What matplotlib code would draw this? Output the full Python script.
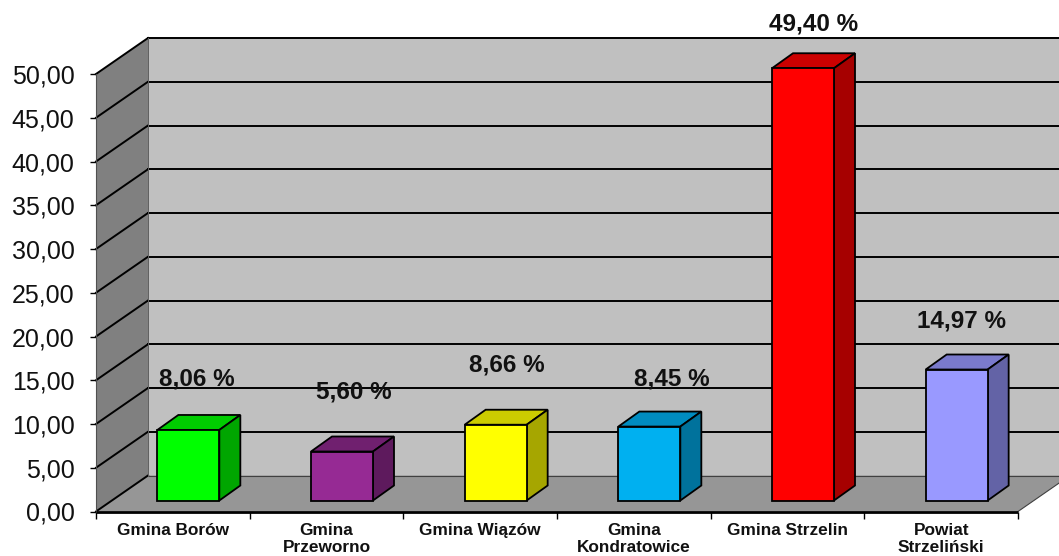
import matplotlib
matplotlib.use("Agg")
import matplotlib.pyplot as plt
from matplotlib.ticker import FixedLocator

plt.rcParams['font.family'] = ['Liberation Sans', 'DejaVu Sans']

categories = ["Gmina Borów", "Gmina\nPrzeworno", "Gmina Wiązów", "Gmina\nKondratowice", "Gmina Strzelin", "Powiat\nStrzeliński"]
values = [8.06, 5.60, 8.66, 8.45, 49.40, 14.97]
value_labels = ["8,06 %", "5,60 %", "8,66 %", "8,45 %", "49,40 %", "14,97 %"]
y_ticks = [0, 5, 10, 15, 20, 25, 30, 35, 40, 45, 50]
y_tick_labels = ["0,00", "5,00", "10,00", "15,00", "20,00", "25,00", "30,00", "35,00", "40,00", "45,00", "50,00"]
front_colors = ["#00ff00", "#962a94", "#ffff00", "#00b0f0", "#ff0000", "#9999ff"]
top_colors = ["#00cc00", "#70206f", "#cccc00", "#008cc0", "#cc0000", "#7a7acc"]
side_colors = ["#00a600", "#5e1a5d", "#a6a600", "#00729c", "#a60000", "#6363a6"]
label_offsets_px = [(8, -51), (12, -60), (11, -60), (22, -48), (11, -44), (5, -49)]

W, H = 1059, 556
fig = plt.figure(figsize=(W / 100, H / 100), dpi=100, facecolor="white")
ax = fig.add_axes([96 / W, (H - 511.5) / H, 922 / W, 437.5 / H])
ax.set_xlim(0, 6)
ax.set_ylim(0, 50)

px_x = 6 / 922
px_y = 50 / 437.5
back_dx, back_dy = 52 * px_x, 36 * px_y
bar_dx, bar_dy = 15.5 * px_x, 11 * px_y
side_dx, side_dy = 21 * px_x, 15 * px_y
bar_w = 62 * px_x

for s in ax.spines.values():
    s.set_visible(False)
ax.patch.set_visible(False)

# walls and floor
ax.fill([back_dx, 6 + back_dx, 6 + back_dx, back_dx], [back_dy, back_dy, 50 + back_dy, 50 + back_dy],
        color="#c0c0c0", lw=0, clip_on=False, zorder=1)
ax.fill([0, back_dx, back_dx, 0], [0, back_dy, 50 + back_dy, 50],
        color="#808080", lw=0, clip_on=False, zorder=1)
ax.fill([0, 6, 6 + back_dx, back_dx], [0, 0, back_dy, back_dy],
        color="#969696", lw=0, clip_on=False, zorder=1)

# gridlines
for t in y_ticks:
    lw = 1.4 if t else 0.8
    col = "black" if t else "#404040"
    ax.plot([back_dx, 6 + back_dx], [t + back_dy] * 2, color=col, lw=lw, clip_on=False, zorder=2)
    ax.plot([0, back_dx], [t, t + back_dy], color="black", lw=1.4, clip_on=False, zorder=2)
ax.plot([0, 0], [0, 50], color="#505050", lw=0.8, clip_on=False, zorder=2)
ax.plot([back_dx, back_dx], [back_dy, 50 + back_dy], color="#606060", lw=0.7, clip_on=False, zorder=2)
ax.plot([6, 6 + back_dx], [0, back_dy], color="#404040", lw=0.8, clip_on=False, zorder=2)
ax.plot([0, 6], [0, 0], color="black", lw=2, clip_on=False, zorder=6, solid_capstyle="butt")

# bars
for i, v in enumerate(values):
    x0 = i + 0.5 + bar_dx - bar_w / 2
    x1 = x0 + bar_w
    ax.bar(x0, v, bottom=bar_dy, width=bar_w, align="edge", color=front_colors[i],
           edgecolor="black", lw=1.3, clip_on=False, zorder=5)
    y1 = v + bar_dy
    ax.fill([x0, x1, x1 + side_dx, x0 + side_dx], [y1, y1, y1 + side_dy, y1 + side_dy],
            facecolor=top_colors[i], edgecolor="black", lw=1.3, clip_on=False, zorder=4)
    ax.fill([x1, x1 + side_dx, x1 + side_dx, x1], [bar_dy, bar_dy + side_dy, y1 + side_dy, y1],
            facecolor=side_colors[i], edgecolor="black", lw=1.3, clip_on=False, zorder=4)
    ox, oy = label_offsets_px[i]
    ax.annotate(value_labels[i], xy=(x0 + bar_w / 2, y1), xytext=(ox * 0.72, -oy * 0.72),
                textcoords="offset points", ha="center", va="center",
                fontsize=17.5, fontweight="bold", color="#111111", zorder=7, annotation_clip=False)

# axes ticks
ax.set_yticks(y_ticks)
ax.set_yticklabels(y_tick_labels, fontsize=18, color="#111111")
ax.tick_params(axis="y", length=4.5, width=1, pad=11)
ax.set_xticks([i + 0.5 for i in range(len(categories))])
ax.set_xticklabels(categories, fontsize=12.4, fontweight="bold", color="#111111", linespacing=1.1, va="top")
ax.tick_params(axis="x", which="major", length=0, pad=8.5)
ax.xaxis.set_minor_locator(FixedLocator(range(len(categories) + 1)))
ax.tick_params(axis="x", which="minor", length=5, width=1)

fig.savefig("out.png", dpi=100, facecolor="white")
